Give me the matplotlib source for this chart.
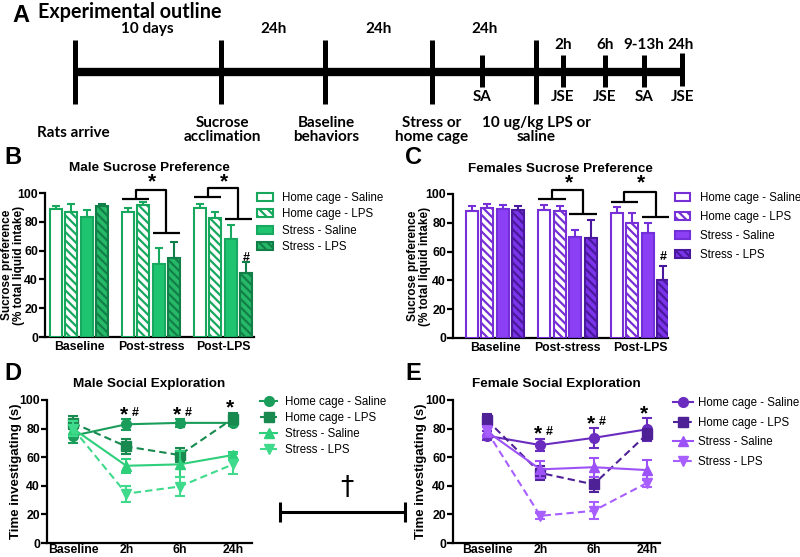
import matplotlib
matplotlib.use('Agg')
import matplotlib.pyplot as plt
import numpy as np

plt.rcParams['font.family'] = ['Liberation Sans', 'DejaVu Sans']
plt.rcParams['hatch.linewidth'] = 1.6

W, H = 800, 557

# ---------------- data ----------------
timeline_top = ["10 days", "24h", "24h", "24h", "2h", "6h", "9-13h", "24h"]
timeline_events = ["SA", "JSE", "JSE", "SA", "JSE"]
timeline_steps = ["Rats arrive", "Sucrose\nacclimation", "Baseline\nbehaviors",
                  "Stress or\nhome cage", "10 ug/kg LPS or\nsaline"]

bar_groups = ["Baseline", "Post-stress", "Post-LPS"]
series_names = ["Home cage - Saline", "Home cage - LPS", "Stress - Saline", "Stress - LPS"]

male_hc_sal = [89, 86.5, 89.5]
male_hc_sal_err = [2.3, 2.8, 3.2]
male_hc_lps = [86.5, 91.7, 82.3]
male_hc_lps_err = [6, 1.8, 4.4]
male_st_sal = [83.5, 51, 68]
male_st_sal_err = [4.6, 11, 9.5]
male_st_lps = [91, 55.2, 44.6]
male_st_lps_err = [1.5, 10.5, 7.6]

fem_hc_sal = [88, 89, 86.5]
fem_hc_sal_err = [4, 3.5, 4.8]
fem_hc_lps = [90.2, 88.4, 80]
fem_hc_lps_err = [2.8, 3, 7]
fem_st_sal = [89.5, 70, 72.8]
fem_st_sal_err = [2.6, 5, 7]
fem_st_lps = [89.1, 69.3, 40.2]
fem_st_lps_err = [2.8, 12.8, 10]

time_points = ["Baseline", "2h", "6h", "24h"]

male_se_hc_sal = [75, 83, 84, 84]
male_se_hc_sal_err = [5, 4, 3, 2]
male_se_hc_lps = [84, 67.5, 61.5, 87]
male_se_hc_lps_err = [4.5, 5.5, 5, 4]
male_se_st_sal = [80, 54, 55, 61.5]
male_se_st_sal_err = [5, 5, 9, 2]
male_se_st_lps = [80, 34.5, 39.5, 55]
male_se_st_lps_err = [5, 5.5, 6.5, 7]

fem_se_hc_sal = [75, 68.5, 73.5, 79.5]
fem_se_hc_sal_err = [3, 4, 7, 8]
fem_se_hc_lps = [86, 49, 41, 76]
fem_se_hc_lps_err = [4, 5, 5.5, 4]
fem_se_st_sal = [78, 51.5, 53, 51]
fem_se_st_sal_err = [4, 6, 6.5, 7]
fem_se_st_lps = [78, 19, 22.5, 42]
fem_se_st_lps_err = [3, 2, 6, 3]

# ---------------- figure ----------------
fig = plt.figure(figsize=(W / 100, H / 100), dpi=100)

ov = fig.add_axes([0, 0, 1, 1])
ov.set_xlim(0, W)
ov.set_ylim(H, 0)
ov.axis('off')


def px_axes(l, t, r, b):
    return fig.add_axes([l / W, 1 - b / H, (r - l) / W, (b - t) / H])


TL_FONT = ['Lato', 'DejaVu Sans']
TL_FS = 11

# ---- Panel A: timeline ----
ov.text(12, 16, "A", fontsize=17, fontweight='bold', ha='left', va='center')
ov.text(38, 12, "Experimental outline", fontsize=14.2, fontweight='bold',
        family=TL_FONT, ha='left', va='center')
ov.plot([73, 683], [72, 72], color='black', lw=6, solid_capstyle='butt')
tall_ticks = [75, 221, 325, 432, 536]
short_ticks = [482, 563, 605, 644]
for x in tall_ticks:
    ov.plot([x, x], [40, 104], color='black', lw=3.6, solid_capstyle='butt')
for x in short_ticks:
    ov.plot([x, x], [55, 87], color='black', lw=3.6, solid_capstyle='butt')
ov.plot([682, 682], [53, 86], color='black', lw=3.6, solid_capstyle='butt')

top_pos = [(147, 29), (274, 29), (379, 29), (485, 29),
           (563, 45), (605, 45), (644, 45), (681, 45)]
for lab, (x, y) in zip(timeline_top, top_pos):
    ov.text(x, y, lab, fontsize=TL_FS, fontweight='bold', family=TL_FONT,
            ha='center', va='center')
ev_pos = [482, 563, 605, 644, 683]
for lab, x in zip(timeline_events, ev_pos):
    ov.text(x, 97, lab, fontsize=TL_FS, fontweight='bold', family=TL_FONT,
            ha='center', va='center')
step_pos = [(73, 133), (222, 130), (326, 130), (432, 130), (536, 130)]
for lab, (x, y) in zip(timeline_steps, step_pos):
    ov.text(x, y, lab, fontsize=TL_FS, fontweight='bold', family=TL_FONT,
            ha='center', va='center', linespacing=1.05)

# ---- Dagger bar ----
ov.plot([280, 405], [512, 512], color='black', lw=2.2, solid_capstyle='butt')
ov.plot([280, 280], [502, 522], color='black', lw=2.2, solid_capstyle='butt')
ov.plot([405, 405], [502, 522], color='black', lw=2.2, solid_capstyle='butt')
ov.text(347, 488, "\u2020", fontsize=19, ha='center', va='center',
        family=['DejaVu Sans'])

# ---- panel letters ----
for lab, (x, y) in zip("BCDE", [(13, 158), (413, 158), (13, 374), (413, 374)]):
    ov.text(x, y, lab, fontsize=17, fontweight='bold', ha='center', va='center')

TICK_FS = 8.8
LEG_FS = 8.3


def style_axes(ax, xpad=3):
    for s in ['top', 'right']:
        ax.spines[s].set_visible(False)
    for s in ['left', 'bottom']:
        ax.spines[s].set_linewidth(1.6)
    ax.set_ylim(0, 100)
    ax.set_yticks([0, 20, 40, 60, 80, 100])
    ax.tick_params(axis='y', length=4, width=1.6, labelsize=TICK_FS, pad=1)
    ax.tick_params(axis='x', length=0, labelsize=TICK_FS, pad=xpad)
    for t in ax.get_yticklabels() + ax.get_xticklabels():
        t.set_fontweight('bold')
    ax.patch.set_alpha(0)


# ---- Bar panels ----
offsets = np.array([-1.5, -0.5, 0.5, 1.5]) * 0.215
bw = 0.165


def bar_panel(ax, series, errs, styles, brackets, hash_y, title, leg_anchor, leg_spacing,
              handlelength, handletextpad):
    x = np.arange(len(bar_groups))
    handles = []
    for j, (vals, err, st) in enumerate(zip(series, errs, styles)):
        xs = x + offsets[j]
        b = ax.bar(xs, vals, width=bw, facecolor=st['face'], edgecolor=st['edge'],
                   hatch=st['hatch'], linewidth=1.5, zorder=3, label=series_names[j])
        ax.errorbar(xs, vals, yerr=[np.zeros(len(vals)), err], fmt='none',
                    ecolor=st['edge'], elinewidth=1.5, capsize=3, capthick=1.5, zorder=2)
        handles.append(b)
    ax.set_xticks(x)
    ax.set_xticklabels(bar_groups)
    style_axes(ax)
    ax.set_title(title, fontsize=9.7, fontweight='bold', pad=16)
    for (gi, y1, top, y2) in brackets:
        c = x[gi]
        kw = dict(color='black', lw=1.6, clip_on=False, solid_capstyle='butt', zorder=5)
        ax.plot([c + offsets[0] - bw / 2, c + offsets[1] + bw / 2], [y1, y1], **kw)
        ax.plot([c - 0.215, c - 0.215, c + 0.215, c + 0.215], [y1, top, top, y2], **kw)
        ax.plot([c + offsets[2] - bw / 2, c + offsets[3] + bw / 2], [y2, y2], **kw)
        ax.text(c + 0.02, 107.5, "*", fontsize=15, fontweight='bold', ha='center',
                va='center', clip_on=False)
    ax.text(x[2] + offsets[3], hash_y, "#", fontsize=9, fontweight='bold',
            ha='center', va='center')
    ax.legend(handles=handles, labels=series_names, loc='upper left',
              bbox_to_anchor=leg_anchor,
              bbox_transform=fig.transFigure, frameon=False, fontsize=LEG_FS,
              borderpad=0, borderaxespad=0, labelspacing=leg_spacing,
              handlelength=handlelength, handleheight=0.7, handletextpad=handletextpad)


g_edge = '#17a85e'
male_styles = [
    dict(face='white', edge=g_edge, hatch=None),
    dict(face='white', edge=g_edge, hatch='\\\\\\\\'),
    dict(face='#1fc470', edge='#16a95f', hatch=None),
    dict(face='#25b968', edge='#127f48', hatch='\\\\\\\\'),
]
p_edge = '#7630d6'
fem_styles = [
    dict(face='white', edge=p_edge, hatch=None),
    dict(face='white', edge=p_edge, hatch='\\\\\\\\'),
    dict(face='#8c40f5', edge='#7330d8', hatch=None),
    dict(face='#7a34ea', edge='#4a189c', hatch='\\\\\\\\'),
]

axB = px_axes(45, 193, 254, 337)
axB.set_xlim((45 - 79) / 72, (254 - 79) / 72)
bar_panel(axB,
          [male_hc_sal, male_hc_lps, male_st_sal, male_st_lps],
          [male_hc_sal_err, male_hc_lps_err, male_st_sal_err, male_st_lps_err],
          male_styles,
          [(1, 95.8, 102, 72), (2, 97, 103.5, 82)], 55,
          "Male Sucrose Preference", (257 / W, 1 - 192 / H), 0.38, 1.4, 0.8)
axB.set_ylabel("Sucrose preference\n(% total liquid intake)", fontsize=8.5,
               fontweight='bold', linespacing=0.95)
axB.yaxis.set_label_coords((13 - 45) / 209, 0.5)
axB.yaxis.label.set_va('center')

axC = px_axes(453, 194, 668, 338)
axC.set_xlim((453 - 495) / 72.5, (668 - 495) / 72.5)
bar_panel(axC,
          [fem_hc_sal, fem_hc_lps, fem_st_sal, fem_st_lps],
          [fem_hc_sal_err, fem_hc_lps_err, fem_st_sal_err, fem_st_lps_err],
          fem_styles,
          [(1, 96.5, 102.5, 86), (2, 94.4, 101.4, 84)], 56.5,
          "Females Sucrose Preference", (675 / W, 1 - 192 / H), 0.6, 1.3, 0.9)
axC.set_ylabel("Sucrose preference\n(% total liquid intake)", fontsize=8.5,
               fontweight='bold', linespacing=0.95)
axC.yaxis.set_label_coords((419 - 453) / 215, 0.5)
axC.yaxis.label.set_va('center')

# ---- Line panels ----
markers = ['o', 's', '^', 'v']
lstyles = ['-', '--', '-', '--']


def line_panel(ax, series, errs, colors, stars, title, leg_anchor, leg_spacing,
               handlelength, handletextpad):
    x = np.arange(len(time_points))
    handles = []
    for j, (vals, err, c) in enumerate(zip(series, errs, colors)):
        cont = ax.errorbar(x, vals, yerr=err, color=c, marker=markers[j], ms=7,
                           ls=lstyles[j], lw=1.5, capsize=3.5, capthick=1.5,
                           elinewidth=1.5, zorder=3 + j * 0.1, label=series_names[j],
                           clip_on=False)
        if lstyles[j] == '--':
            cont.lines[0].set_dashes((3.5, 2))
        handles.append(cont.lines[0])
    ax.set_xticks(x)
    ax.set_xticklabels(time_points)
    style_axes(ax, xpad=0.5)
    ax.set_title(title, fontsize=9.7, fontweight='bold', pad=9)
    ax.set_ylabel("Time investigating (s)", fontsize=9.5, fontweight='bold')
    for (xi, y, txt) in stars:
        ax.text(xi - 0.05, y, "*", fontsize=15, fontweight='bold', ha='center',
                va='center')
        if txt:
            ax.text(xi + 0.17, y + 1.5, "#", fontsize=9, fontweight='bold',
                    ha='center', va='center')
    ax.legend(handles=handles, labels=series_names, loc='upper left',
              bbox_to_anchor=leg_anchor,
              bbox_transform=fig.transFigure, frameon=False, fontsize=LEG_FS,
              borderpad=0, borderaxespad=0, labelspacing=leg_spacing,
              handlelength=handlelength, handletextpad=handletextpad)


axD = px_axes(47, 400, 252, 543)
axD.set_xlim((47 - 73) / 53.3, (252 - 73) / 53.3)
line_panel(axD,
           [male_se_hc_sal, male_se_hc_lps, male_se_st_sal, male_se_st_lps],
           [male_se_hc_sal_err, male_se_hc_lps_err, male_se_st_sal_err, male_se_st_lps_err],
           ['#1a9c5b', '#188a50', '#2dcf7a', '#3fda8c'],
           [(1, 89.5, True), (2, 89.5, True), (3, 94.5, False)],
           "Male Social Exploration", (260 / W, 1 - 396 / H), 0.35, 1.5, 0.7)
axD.yaxis.set_label_coords((16 - 47) / 205, 0.5)
axD.yaxis.label.set_va('center')

axE = px_axes(453, 400, 660, 543)
axE.set_xlim((453 - 487) / 53.3, (660 - 487) / 53.3)
line_panel(axE,
           [fem_se_hc_sal, fem_se_hc_lps, fem_se_st_sal, fem_se_st_lps],
           [fem_se_hc_sal_err, fem_se_hc_lps_err, fem_se_st_sal_err, fem_se_st_lps_err],
           ['#6a2cbf', '#4f2196', '#9c52f7', '#a75fff'],
           [(1, 76, True), (2, 83, True), (3, 90.5, False)],
           "Female Social Exploration", (673 / W, 1 - 397 / H), 0.67, 1.75, 0.45)
axE.yaxis.set_label_coords((421 - 453) / 207, 0.5)
axE.yaxis.label.set_va('center')

fig.savefig("out.png", dpi=100)
